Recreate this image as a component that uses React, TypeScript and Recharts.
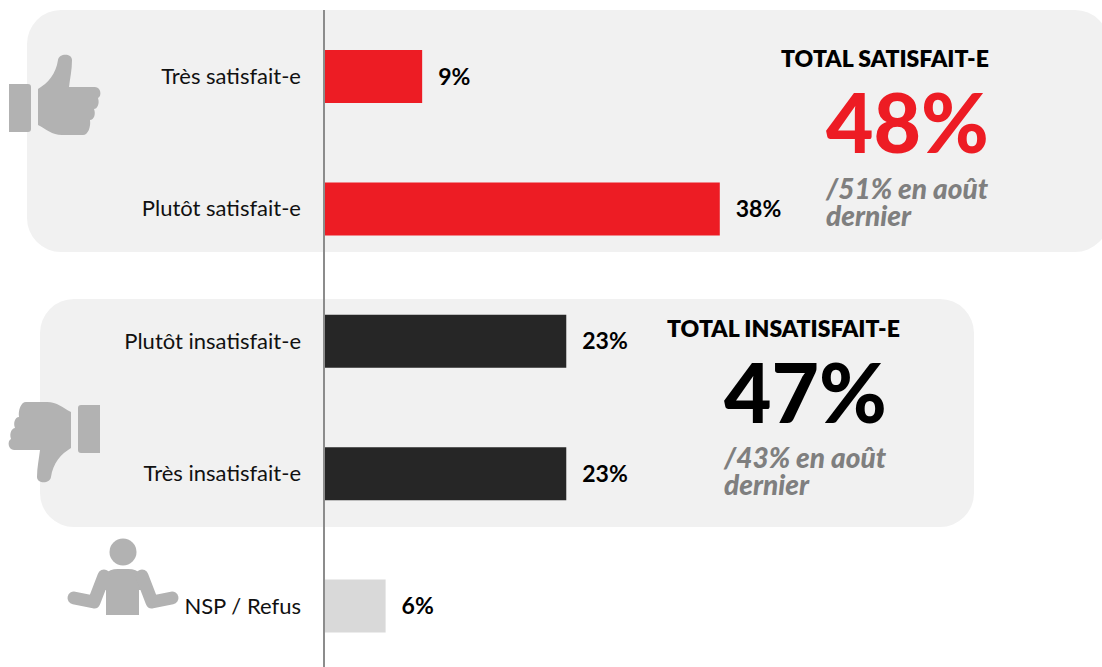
import React from 'react';
import { BarChart, Bar, XAxis, YAxis, Cell, LabelList } from 'recharts';

const categories = ['Très satisfait-e', 'Plutôt satisfait-e', 'Plutôt insatisfait-e', 'Très insatisfait-e', 'NSP / Refus'];
const values = [9.4, 37.9, 23.2, 23.2, 5.9];
const barColors = ['#ED1C24', '#ED1C24', '#262626', '#262626', '#D9D9D9'];
const totalTitles = ['TOTAL SATISFAIT-E', 'TOTAL INSATISFAIT-E'];
const totalValues = ['48%', '47%'];
const totalNotes = [['/51% en août', 'dernier'], ['/43% en août', 'dernier']];

const rows = categories.map((name, i) => ({ name, value: values[i] }));
const FONT = 'Lato, "Open Sans", sans-serif';
const ICON = '#B2B2B2';

const text = (left: number, top: number, size: number, color: string, extra: React.CSSProperties = {}): React.CSSProperties => ({
    position: 'absolute',
    left,
    top,
    fontFamily: FONT,
    fontSize: size,
    lineHeight: 1,
    fontWeight: 700,
    color,
    whiteSpace: 'nowrap',
    ...extra,
});

const ThumbUp = () => (
    <>
        <path d="M9 84 L28 84 Q31 84 31 87 L31 129 Q31 132 28 132 L9 132 Z" fill={ICON} />
        <path
            d="M38 89 C48 83 56 74 58 60 C59 53 72 53 72 60 C72 70 70 78 69 87 L95 87 C101 87 102 96 98 98 C100 104 97 109 94 109 C96 114 94 120 90 120 C91 127 88 135 83 135 L62 135 C52 135 46 129 38 125 Z"
            fill={ICON}
        />
    </>
);

const Person = () => (
    <>
        <circle cx={123} cy={552} r={13.5} fill={ICON} />
        <path d="M106 615 L139 615 L139 590 L146 590 L140 574 Q137 569 128 569 L118 569 Q109 569 106 574 L100 590 L106 590 Z" fill={ICON} />
        <path d="M74 598 L94 602 L104 576" fill="none" stroke={ICON} strokeWidth={13} strokeLinecap="round" strokeLinejoin="round" />
        <path d="M172 598 L152 602 L142 576" fill="none" stroke={ICON} strokeWidth={13} strokeLinecap="round" strokeLinejoin="round" />
    </>
);

export default function App() {
    return (
        <div style={{ position: 'absolute', left: 0, top: 0, width: 1102, height: 667, overflow: 'hidden', background: '#fff' }}>
            <div style={{ position: 'absolute', left: 27, top: 10, width: 1082, height: 242, borderRadius: 34, background: '#F1F1F1' }} />
            <div style={{ position: 'absolute', left: 40, top: 299, width: 934, height: 228, borderRadius: 34, background: '#F1F1F1' }} />

            <div style={{ position: 'absolute', left: 0, top: 0 }}>
                <BarChart
                    width={1102}
                    height={672}
                    data={rows}
                    layout="vertical"
                    margin={{ top: 10, right: 0, bottom: 0, left: 0 }}
                    barCategoryGap={0}
                >
                    <XAxis type="number" domain={[0, 74.5]} hide />
                    <YAxis
                        type="category"
                        dataKey="name"
                        width={324}
                        tickLine={false}
                        tickMargin={17}
                        axisLine={{ stroke: '#8C8C8C', strokeWidth: 2 }}
                        tick={{ fill: '#111', fontSize: 22, fontFamily: FONT }}
                    />
                    <Bar dataKey="value" barSize={53} isAnimationActive={false}>
                        {rows.map((row, i) => (
                            <Cell key={row.name} fill={barColors[i]} />
                        ))}
                        <LabelList
                            dataKey="value"
                            position="right"
                            offset={16}
                            formatter={(v: number) => `${Math.round(v)}%`}
                            style={{ fill: '#000', fontSize: 23, fontWeight: 700, fontFamily: FONT }}
                        />
                    </Bar>
                </BarChart>
            </div>

            <svg width={1102} height={667} style={{ position: 'absolute', left: 0, top: 0 }}>
                <ThumbUp />
                <g transform="translate(109 537) scale(-1 -1)">
                    <ThumbUp />
                </g>
                <Person />
            </svg>

            <div style={text(781, 47, 23, '#000', { fontWeight: 800 })}>{totalTitles[0]}</div>
            <div style={text(826, 80, 82, '#ED1C24', { fontWeight: 900 })}>{totalValues[0]}</div>
            <div style={text(826, 175, 28, '#7F7F7F', { fontStyle: 'italic', fontWeight: 900, lineHeight: '27px' })}>
                {totalNotes[0][0]}
                <br />
                {totalNotes[0][1]}
            </div>

            <div style={text(667, 317, 23, '#000', { fontWeight: 800 })}>{totalTitles[1]}</div>
            <div style={text(724, 350, 82, '#000', { fontWeight: 900 })}>{totalValues[1]}</div>
            <div style={text(724, 444, 28, '#7F7F7F', { fontStyle: 'italic', fontWeight: 900, lineHeight: '27px' })}>
                {totalNotes[1][0]}
                <br />
                {totalNotes[1][1]}
            </div>
        </div>
    );
}
